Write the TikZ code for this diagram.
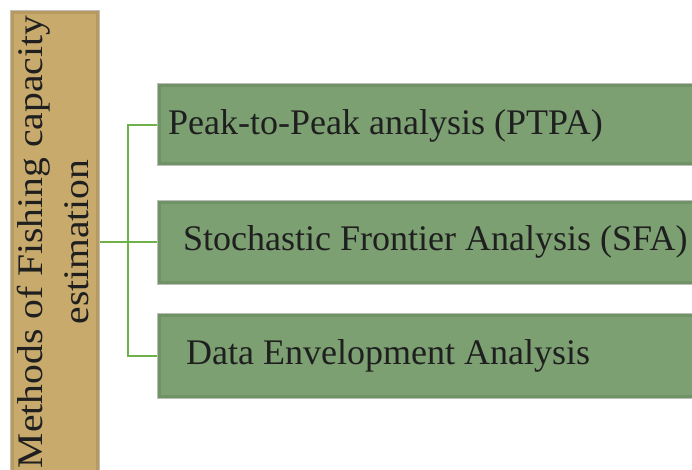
\documentclass[tikz,border=0pt]{standalone}
\usepackage{fontspec}
\usepackage{graphicx}
\setmainfont{Liberation Serif}
\definecolor{tanfill}{RGB}{200,170,108}
\definecolor{tanedge}{RGB}{170,140,85}
\definecolor{greenfill}{RGB}{124,160,114}
\definecolor{greenedge}{RGB}{100,135,92}
\definecolor{boxline}{RGB}{190,190,185}
\definecolor{linkgreen}{RGB}{112,176,72}
\tikzset{
  mainbox/.style={draw=boxline, line width=1pt, fill=tanfill, minimum width=89pt, minimum height=480pt, inner sep=0pt},
  methodbox/.style={draw=boxline, line width=1pt, fill=greenfill, minimum width=563pt, inner sep=0pt},
  boxtext/.style={font=\fontsize{36}{46}\selectfont, text=black!88, anchor=west, inner sep=0pt},
  link/.style={draw=linkgreen, line width=2pt},
}
\begin{document}
\begin{tikzpicture}[x=1pt,y=-1pt]
\useasboundingbox (0,0) rectangle (692,469);
\clip (0,0) rectangle (692,469);
\fill[white] (0,0) rectangle (692,469);
% main box
\node[mainbox] (main) at (54.5,250) {};
\draw[tanedge, line width=3pt, opacity=0.5] ([shift={(2.5pt,-2.5pt)}]main.north west) rectangle ([shift={(-2.5pt,2.5pt)}]main.south east);
\node[rotate=90, font=\fontsize{36}{46}\selectfont, text=black!88, inner sep=0pt] (maintext) at (56,242) {\scalebox{1.1}[1]{\begin{tabular}{@{}c@{}}Methods of Fishing capacity\\estimation\end{tabular}}};
% method boxes
\node[methodbox, minimum height=82pt, anchor=west] (m1) at (157,124.5) {};
\node[methodbox, minimum height=84pt, anchor=west] (m2) at (157,242) {};
\node[methodbox, minimum height=85pt, anchor=west] (m3) at (157,355.5) {};
\foreach \b in {m1,m2,m3}{
  \draw[greenedge, line width=3pt, opacity=0.5] ([shift={(2.5pt,-2.5pt)}]\b.north west) rectangle ([shift={(-2.5pt,2.5pt)}]\b.south east);
}
\node[boxtext] (t1) at (168,126) {Peak-to-Peak analysis (PTPA)};
\node[boxtext] (t2) at (183,242) {Stochastic Frontier Analysis (SFA)};
\node[boxtext] (t3) at (186,356) {Data Envelopment Analysis};
% connectors
\coordinate (j) at (128,242);
\draw[link] (main.east |- j) -- (j);
\draw[link] (m1.west) -| (j) |- (m3.west);
\draw[link] (j) -- (m2.west);
\end{tikzpicture}
\end{document}
